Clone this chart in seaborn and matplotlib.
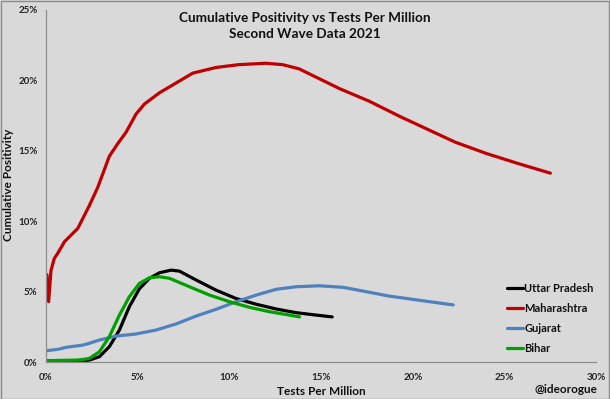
import matplotlib
matplotlib.use("Agg")
import matplotlib.pyplot as plt
import matplotlib.ticker as mtick
import seaborn as sns
import pandas as pd

# values, in percent
up_x = [0.0, 1.0, 2.0, 2.37, 2.91, 3.45, 4.0, 4.54, 5.09, 5.64, 6.18, 6.82, 7.27, 8.18, 9.27, 10.37, 11.46, 12.55, 13.64, 14.73, 15.6]
up_y = [0.05, 0.05, 0.06, 0.14, 0.38, 1.09, 2.27, 3.92, 5.2, 5.94, 6.33, 6.52, 6.45, 5.82, 5.1, 4.5, 4.1, 3.76, 3.5, 3.33, 3.2]

mh_x = [0.05, 0.14, 0.27, 0.45, 0.63, 0.9, 1.0, 1.73, 2.36, 2.82, 3.45, 3.91, 4.36, 4.91, 5.36, 6.18, 7.09, 8.0, 9.27, 10.5, 12.0, 12.9, 13.8, 14.9, 16.0, 17.63, 19.33, 20.82, 22.31, 24.0, 25.7, 27.5]
mh_y = [6.2, 4.28, 6.5, 7.35, 7.7, 8.3, 8.53, 9.48, 11.1, 12.4, 14.6, 15.5, 16.3, 17.6, 18.3, 19.1, 19.8, 20.5, 20.9, 21.1, 21.2, 21.1, 20.8, 20.1, 19.4, 18.5, 17.4, 16.5, 15.6, 14.8, 14.1, 13.4]

gj_x = [0.0, 0.64, 1.09, 2.0, 2.36, 2.91, 3.82, 4.91, 6.0, 7.09, 8.18, 9.27, 10.37, 11.46, 12.55, 13.64, 14.9, 16.2, 17.46, 18.7, 20.8, 22.2]
gj_y = [0.8, 0.9, 1.04, 1.2, 1.33, 1.56, 1.84, 1.99, 2.27, 2.7, 3.26, 3.74, 4.28, 4.75, 5.16, 5.34, 5.41, 5.3, 4.99, 4.68, 4.3, 4.05]

bh_x = [0.0, 1.0, 1.7, 2.12, 2.37, 2.91, 3.45, 4.0, 4.54, 5.09, 5.64, 6.18, 6.73, 7.82, 8.91, 10.0, 11.09, 12.18, 13.27, 13.82]
bh_y = [0.1, 0.12, 0.14, 0.2, 0.26, 0.73, 1.8, 3.33, 4.63, 5.58, 5.98, 6.05, 5.94, 5.34, 4.75, 4.28, 3.88, 3.57, 3.33, 3.2]

states = ["Uttar Pradesh", "Maharashtra", "Gujarat", "Bihar"]
colors = ["#000000", "#C00000", "#4F81BD", "#00A000"]

frames = []
for name, xs, ys in zip(states, [up_x, mh_x, gj_x, bh_x], [up_y, mh_y, gj_y, bh_y]):
    frames.append(pd.DataFrame({"tests": xs, "positivity": ys, "state": name}))
df = pd.concat(frames, ignore_index=True)

bg = "#D9D9D9"
sns.set_style("white")
plt.rcParams["font.family"] = ["Lato", "DejaVu Sans"]

fig = plt.figure(figsize=(6.1, 3.99), dpi=100, facecolor=bg)
ax = fig.add_axes([0.0755, 0.0927, 0.902, 0.883])
ax.set_facecolor(bg)

sns.lineplot(data=df, x="tests", y="positivity", hue="state", hue_order=states,
             palette=colors, sort=False, estimator=None, linewidth=2.3, ax=ax)

ax.set_xlim(0, 30)
ax.set_ylim(0, 25)
ax.set_xticks(range(0, 31, 5))
ax.set_yticks(range(0, 26, 5))
ax.xaxis.set_major_formatter(mtick.PercentFormatter(decimals=0))
ax.yaxis.set_major_formatter(mtick.PercentFormatter(decimals=0))
ax.tick_params(axis="both", labelsize=7, labelcolor="#222222", color="#8C8C8C",
               length=3, width=0.8, direction="out")
ax.tick_params(axis="y", pad=3)
ax.tick_params(axis="x", pad=5)
for lbl in ax.get_xticklabels() + ax.get_yticklabels():
    lbl.set_fontweight("bold")

for side in ["top", "right"]:
    ax.spines[side].set_visible(False)
for side in ["left", "bottom"]:
    ax.spines[side].set_color("#8C8C8C")
    ax.spines[side].set_linewidth(0.9)

ax.set_xlabel("")
ax.set_ylabel("")
fig.text(0.014, 0.536, "Cumulative Positivity", rotation=90, ha="center", va="center",
         fontsize=8.5, fontweight="bold", color="#111111")
fig.text(0.526, 0.02, "Tests Per Million", ha="center", va="center",
         fontsize=8.5, fontweight="bold", color="#111111")
fig.text(0.98, 0.025, "@ideorogue", ha="right", va="center",
         fontsize=8.5, fontweight="bold", color="#111111")

ax.text(0.47, 0.993, "Cumulative Positivity vs Tests Per Million\nSecond Wave Data 2021",
        transform=ax.transAxes, ha="center", va="top", fontsize=9.8, fontweight="bold",
        linespacing=1.35, color="#111111")

handles, labels = ax.get_legend_handles_labels()
leg = ax.legend(handles, labels, loc="center left", bbox_to_anchor=(0.83, 0.123),
                frameon=False, handlelength=1.4, handletextpad=0.15, labelspacing=0.82,
                fontsize=8, borderaxespad=0)
for t in leg.get_texts():
    t.set_fontweight("bold")
    t.set_color("#111111")
for h in leg.get_lines():
    h.set_linewidth(2.3)

fig.patches.append(plt.Rectangle((0.001, 0.001), 0.998, 0.997, transform=fig.transFigure,
                                 fill=False, edgecolor="#8C8C8C", linewidth=1.0))

fig.savefig("out.png", dpi=100, facecolor=bg)
